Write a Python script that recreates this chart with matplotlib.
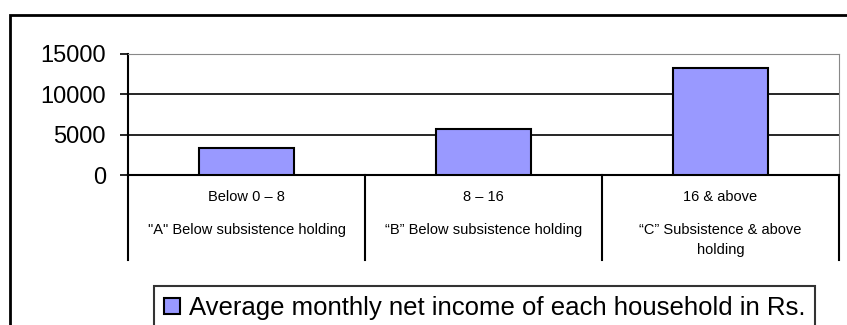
import matplotlib.pyplot as plt
import matplotlib.transforms as mtransforms
from matplotlib.patches import Rectangle

plt.rcParams['font.family'] = ['Liberation Sans', 'DejaVu Sans']

# land holding groups (acres) and income per household
size_groups = ['Below 0 – 8', '8 – 16', '16 & above']
group_names = ['"A" Below subsistence holding',
               '“B” Below subsistence holding',
               '“C” Subsistence & above\nholding']
income = [3300, 5650, 13300]
series_name = 'Average monthly net income of each household in Rs.'

W, H = 847, 325
fig = plt.figure(figsize=(W / 100, H / 100), dpi=100)

# outer frame of the chart area
fig.patches.append(Rectangle((10 / W, -0.1), 1.0, 1 - 15 / H + 0.1,
                             transform=fig.transFigure, fill=False,
                             edgecolor='black', linewidth=2))

ax = fig.add_axes([128 / W, (H - 175) / H, 711 / W, 121 / H])
x = range(len(income))
ax.bar(x, income, width=0.4, color='#9999ff', edgecolor='black',
       linewidth=1.5, zorder=3, label=series_name)
ax.set_xlim(-0.5, 2.5)
ax.set_ylim(0, 15000)
ax.set_yticks([0, 5000, 10000, 15000])
ax.tick_params(axis='y', labelsize=17, length=6, width=1.2, direction='out', pad=10)
ax.set_xticks([])
for y in [5000, 10000]:
    ax.axhline(y, color='black', linewidth=1.2, zorder=1)
ax.spines['top'].set_color('#888888')
ax.spines['right'].set_color('#888888')
ax.spines['left'].set_linewidth(1.5)
ax.spines['bottom'].set_linewidth(1.5)

# category table below the axis
trans = mtransforms.blended_transform_factory(ax.transData, ax.transAxes)
for xs in [-0.5, 0.5, 1.5, 2.5]:
    ax.plot([xs, xs], [0, -0.70], transform=trans, color='black',
            linewidth=1.5, clip_on=False)
for i in x:
    ax.text(i, -0.18, size_groups[i], transform=trans, ha='center',
            va='center', fontsize=10.5)
    ax.text(i, -0.395, group_names[i], transform=trans, ha='center',
            va='top', fontsize=10.5, linespacing=1.6)

fig.legend(loc='upper left', bbox_to_anchor=(154 / W, 1 - 286 / H),
           borderaxespad=0, fontsize=18.5, frameon=True, fancybox=False,
           edgecolor='black', handlelength=0.6, handleheight=0.6,
           handletextpad=0.35, borderpad=0.4)
fig.legends[0].get_frame().set_linewidth(1.5)

plt.savefig('out.png', dpi=100)
plt.close()
